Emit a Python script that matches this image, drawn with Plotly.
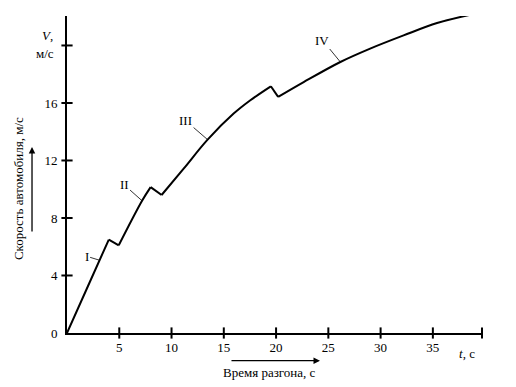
import plotly.graph_objects as go

# ---- data ----
t_gear1 = [0.0, 2.0, 4.0]
v_gear1 = [0.0, 3.25, 6.5]
t_gear2 = [4.95, 7.18, 8.0]
v_gear2 = [6.1, 9.2, 10.15]
t_gear3 = [9.05, 11.16, 13.45, 15.94, 17.54, 19.5]
v_gear3 = [9.6, 11.43, 13.45, 15.26, 16.19, 17.16]
t_gear4 = [20.2, 22.64, 26.15, 29.0, 32.2, 35.4, 38.6]
v_gear4 = [16.42, 17.45, 18.85, 19.78, 20.7, 21.56, 22.14]

x_ticks = [5, 10, 15, 20, 25, 30, 35]
x_tick_text = ["5", "10", "15", "20", "25", "30", "35"]
y_ticks = [0, 4, 8, 12, 16]
y_tick_text = ["0", "4", "8", "12", "16"]
y_tick_marks = [4, 8, 12, 16, 20]
x_end = 39.7
y_end = 22.05

gear_labels = ["I", "II", "III", "IV"]
label_points_t = [3.12, 7.18, 13.45, 26.15]
label_points_v = [5.06, 9.2, 13.45, 18.85]

FONT = "Liberation Serif"
TXT = dict(family=FONT, size=13, color="black")
CTR = dict(xanchor="center", yanchor="middle")

fig = go.Figure()

gears = [(t_gear1, v_gear1), (t_gear2, v_gear2), (t_gear3, v_gear3), (t_gear4, v_gear4)]
for tg, vg in gears:
    fig.add_trace(go.Scatter(x=tg, y=vg, mode="lines",
                             line=dict(color="black", width=2, shape="spline", smoothing=1.0),
                             hoverinfo="skip", showlegend=False))
# gear-change drops
for (ta, va), (tb, vb) in zip(gears[:-1], gears[1:]):
    fig.add_trace(go.Scatter(x=[ta[-1], tb[0]], y=[va[-1], vb[0]], mode="lines",
                             line=dict(color="black", width=2),
                             hoverinfo="skip", showlegend=False))

# crossing tick marks
fig.add_trace(go.Scatter(x=x_ticks + [x_end], y=[0] * (len(x_ticks) + 1), mode="markers",
                         marker=dict(symbol="line-ns", size=8, line=dict(color="black", width=2)),
                         cliponaxis=False, hoverinfo="skip", showlegend=False))
fig.add_trace(go.Scatter(x=[0] * len(y_tick_marks), y=y_tick_marks, mode="markers",
                         marker=dict(symbol="line-ew", size=8, line=dict(color="black", width=2)),
                         cliponaxis=False, hoverinfo="skip", showlegend=False))

# gear labels with leader lines
offsets = [(-13, -4), (-18, -16), (-22, -19), (-18, -22)]
for lab, tp, vp, (ax, ay) in zip(gear_labels, label_points_t, label_points_v, offsets):
    fig.add_annotation(x=tp, y=vp, xref="x", yref="y", text=lab, showarrow=True,
                       arrowhead=0, arrowwidth=0.8, arrowcolor="black", ax=ax, ay=ay,
                       font=TXT)

# axis captions
fig.add_annotation(x=-0.0475, y=0.940, xref="paper", yref="paper", text="<i>V</i>,",
                   showarrow=False, font=TXT, **CTR)
fig.add_annotation(x=-0.053, y=0.882, xref="paper", yref="paper", text="м/с",
                   showarrow=False, font=TXT, **CTR)
fig.add_annotation(x=0.9646, y=-0.064, xref="paper", yref="paper", text="<i>t</i>, с",
                   showarrow=False, font=TXT, **CTR)

# titles with arrows
fig.add_annotation(x=-0.118, y=0.454, xref="paper", yref="paper", text="Скорость автомобиля, м/с",
                   textangle=-90, showarrow=False, font=TXT, **CTR)
fig.add_annotation(x=-0.0843, y=0.5868, xref="paper", yref="paper", text="", showarrow=True,
                   arrowhead=2, arrowsize=1, arrowwidth=1.3, arrowcolor="black", ax=0, ay=86)
fig.add_annotation(x=0.489, y=-0.126, xref="paper", yref="paper", text="Время разгона, с",
                   showarrow=False, font=TXT, **CTR)
fig.add_annotation(x=0.6096, y=-0.0874, xref="paper", yref="paper", text="", showarrow=True,
                   arrowhead=2, arrowsize=1, arrowwidth=1.3, arrowcolor="black", ax=-90, ay=0)

# page body has an 8px margin: shrink the figure so the plot area lands where the reference has it
fig.update_layout(
    width=508, height=379,
    margin=dict(l=59, r=34, t=8, b=54),
    paper_bgcolor="white", plot_bgcolor="white",
    font=TXT,
    xaxis=dict(range=[0, x_end], showgrid=False, zeroline=False, showline=True,
               linecolor="black", linewidth=2, tickmode="array", tickvals=x_ticks,
               ticktext=x_tick_text, ticks="outside", ticklen=1, tickcolor="rgba(0,0,0,0)",
               automargin=False),
    yaxis=dict(range=[0, y_end], showgrid=False, zeroline=False, showline=True,
               linecolor="black", linewidth=2, tickmode="array", tickvals=y_ticks,
               ticktext=y_tick_text, ticks="outside", ticklen=5, tickcolor="rgba(0,0,0,0)",
               automargin=False),
    showlegend=False,
)

fig.write_html("out.html")
